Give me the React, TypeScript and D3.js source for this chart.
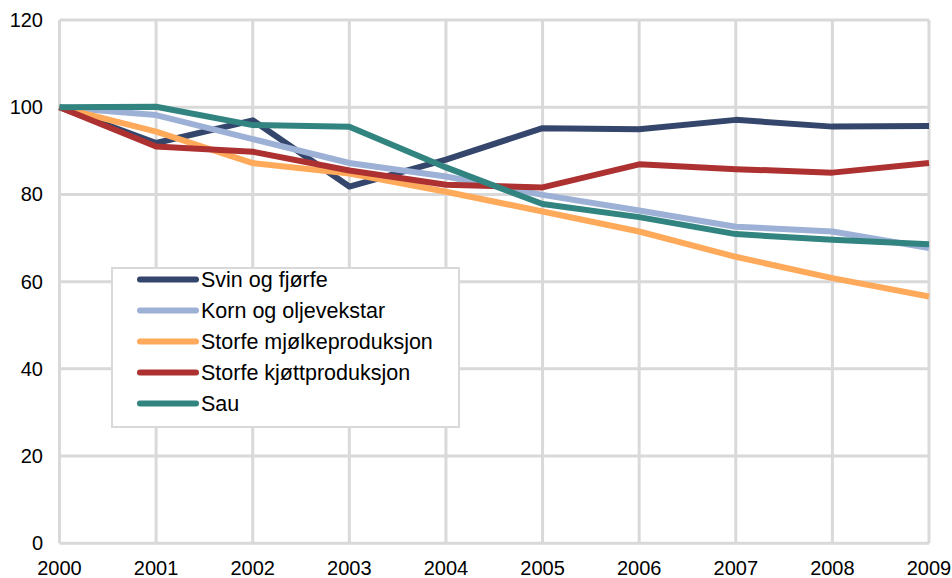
import React from "react";
import * as d3 from "d3";

const years = [2000, 2001, 2002, 2003, 2004, 2005, 2006, 2007, 2008, 2009];
const svin = [100, 91.8, 97.0, 81.8, 88.0, 95.2, 94.95, 97.1, 95.55, 95.7];
const korn = [100, 98.2, 92.7, 87.2, 84.1, 79.9, 76.3, 72.6, 71.5, 67.7];
const mjolk = [100, 94.4, 87.2, 84.8, 80.6, 76.1, 71.5, 65.7, 60.8, 56.6];
const kjott = [100, 91.0, 89.8, 85.5, 82.2, 81.6, 86.9, 85.8, 85.0, 87.2];
const sau = [100, 100.1, 95.9, 95.5, 86.2, 77.8, 74.8, 70.9, 69.6, 68.6];
const seriesNames = [
  "Svin og fjørfe",
  "Korn og oljevekstar",
  "Storfe mjølkeproduksjon",
  "Storfe kjøttproduksjon",
  "Sau",
];
const seriesValues = [svin, korn, mjolk, kjott, sau];
const seriesColors = ["#34466b", "#9db0d6", "#ffaa5a", "#ad3131", "#318480"];
const yTicks = [0, 20, 40, 60, 80, 100, 120];

export default function App() {
  const W = 952;
  const H = 578;
  const x = d3.scaleLinear().domain([2000, 2009]).range([59.5, 929]);
  const y = d3.scaleLinear().domain([0, 120]).range([543.3, 20]);
  const line = d3
    .line<number>()
    .x((_, i) => x(years[i]))
    .y((d) => y(d));
  const font = "'Liberation Sans', Arial, sans-serif";
  const grid = "#d9d9d9";
  const legX = 112;
  const legY = 268;
  const rowH = 31;

  return (
    <svg
      width={W}
      height={H}
      style={{ position: "absolute", left: 0, top: 0, background: "#fff" }}
      fontFamily={font}
    >
      <rect x={0} y={0} width={W} height={H} fill="#fff" />
      {yTicks.map((t) => (
        <line key={"h" + t} x1={x(2000)} x2={x(2009)} y1={y(t)} y2={y(t)} stroke={grid} strokeWidth={3} />
      ))}
      {years.map((yr) => (
        <line key={"v" + yr} x1={x(yr)} x2={x(yr)} y1={y(120)} y2={y(0)} stroke={grid} strokeWidth={3} />
      ))}
      {yTicks.map((t) => (
        <text key={"yl" + t} x={43} y={y(t)} dy="0.35em" textAnchor="end" fontSize={20} fill="#000">
          {t}
        </text>
      ))}
      {years.map((yr) => (
        <text key={"xl" + yr} x={x(yr)} y={575} textAnchor="middle" fontSize={20} fill="#000">
          {yr}
        </text>
      ))}
      {seriesValues.map((vals, i) => (
        <path
          key={"s" + i}
          d={line(vals) || ""}
          fill="none"
          stroke={seriesColors[i]}
          strokeWidth={6}
          strokeLinejoin="round"
        />
      ))}
      <rect x={legX} y={legY} width={347} height={159} fill="#fff" stroke={grid} strokeWidth={2} />
      {seriesNames.map((name, i) => {
        const cy = legY + 11.5 + i * rowH;
        return (
          <g key={"lg" + i}>
            <line x1={140} x2={196} y1={cy} y2={cy} stroke={seriesColors[i]} strokeWidth={6} strokeLinecap="round" />
            <text x={201} y={cy} dy="0.36em" fontSize={21.5} fill="#000">
              {name}
            </text>
          </g>
        );
      })}
    </svg>
  );
}
